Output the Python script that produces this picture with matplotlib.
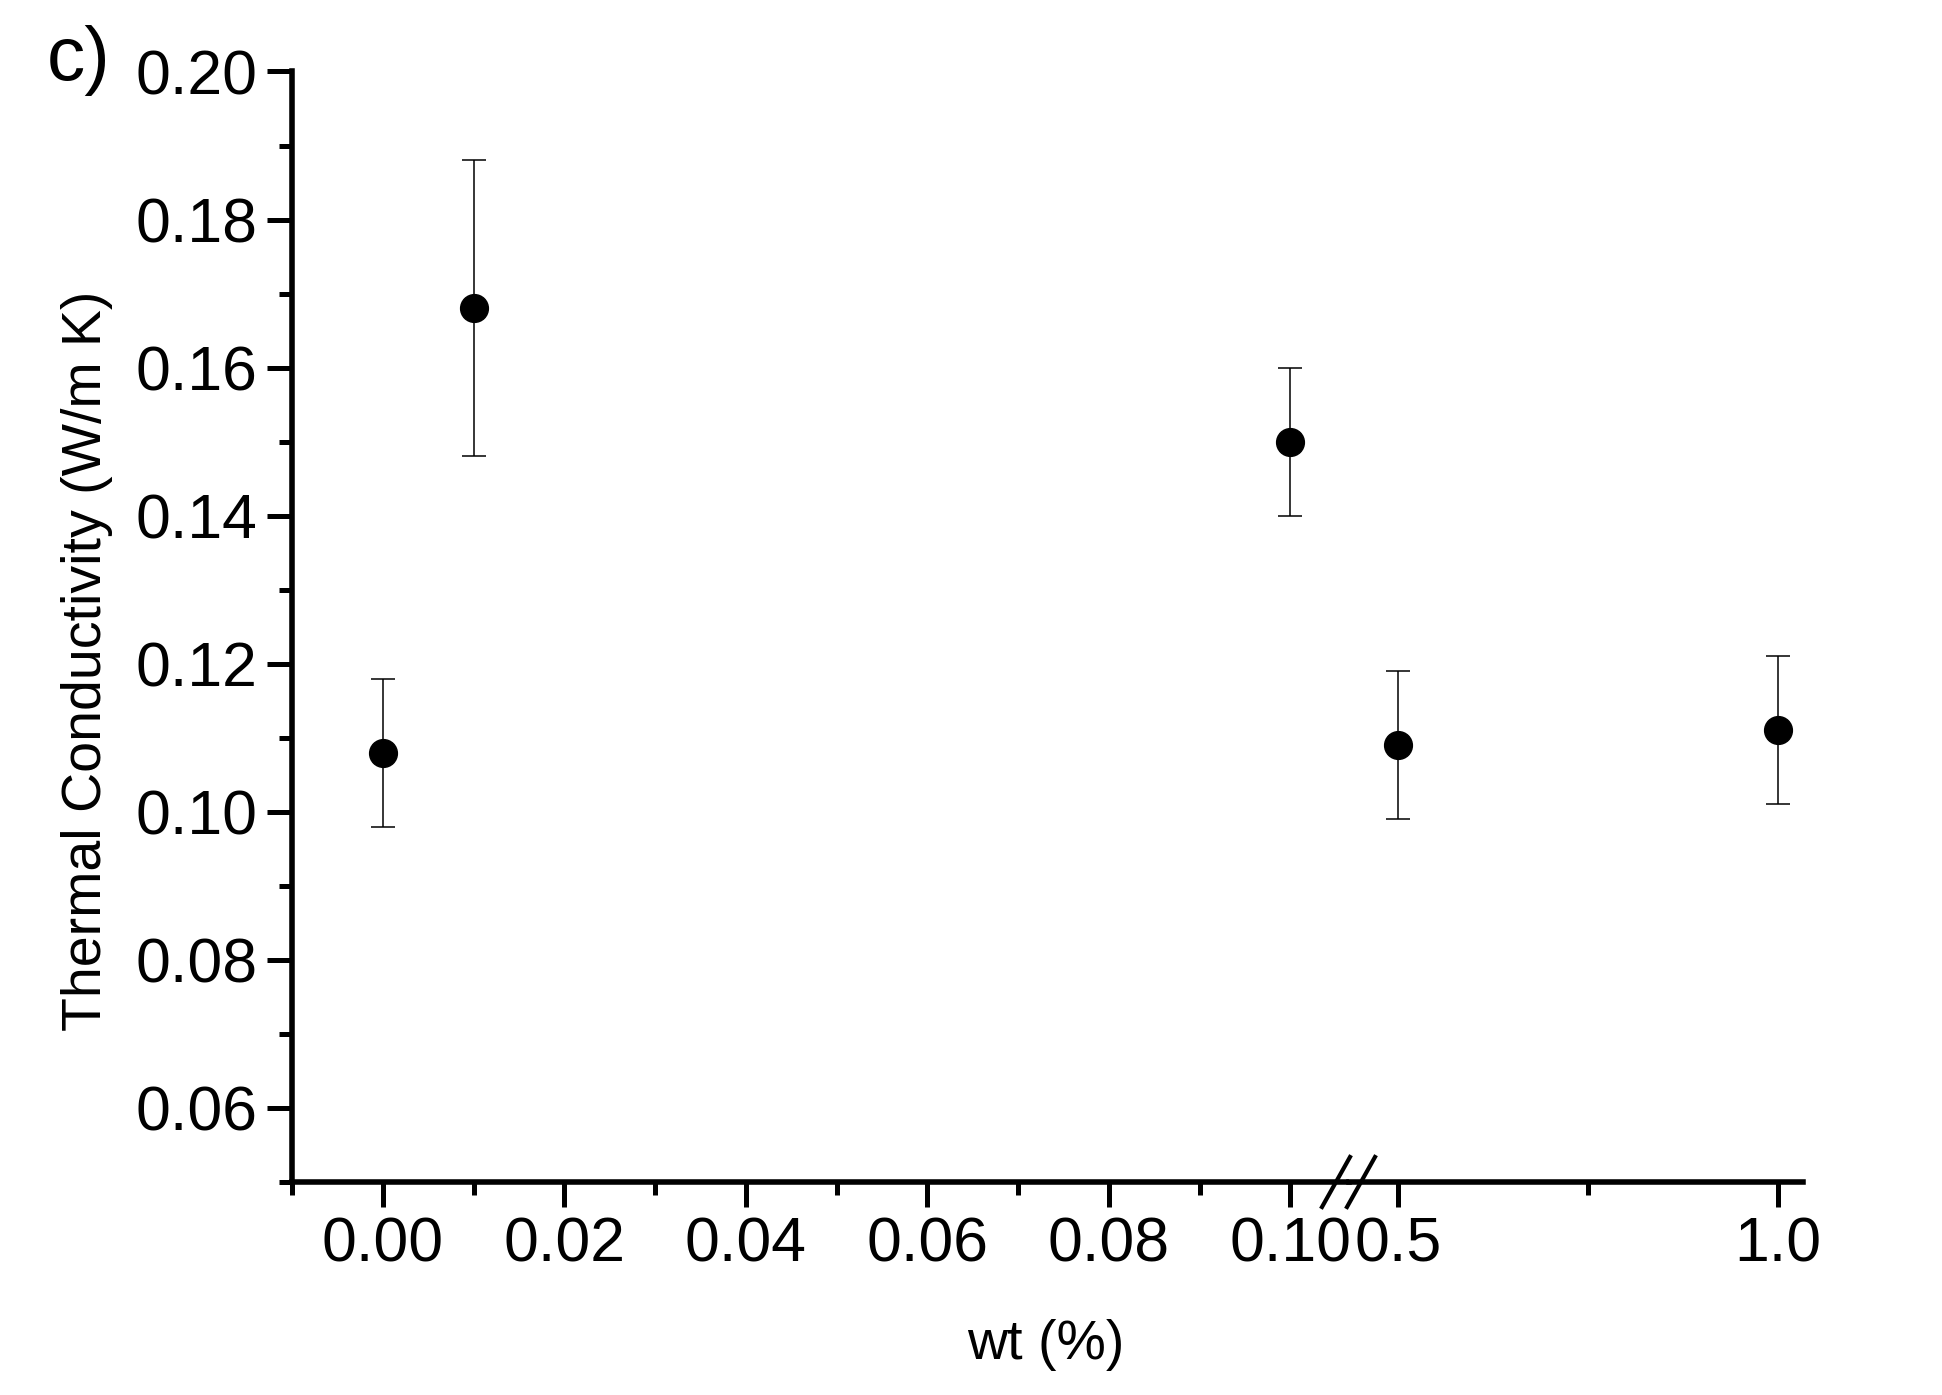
import matplotlib
matplotlib.use("Agg")
import matplotlib.pyplot as plt
from matplotlib.ticker import FixedLocator, FixedFormatter

plt.rcParams['font.family'] = ['Liberation Sans', 'DejaVu Sans']

# data
wt_low = [0.00, 0.01, 0.10]
k_low = [0.108, 0.168, 0.150]
err_low = [0.010, 0.020, 0.010]

wt_high = [0.5, 1.0]
k_high = [0.109, 0.111]
err_high = [0.010, 0.010]

y_ticks = [0.06, 0.08, 0.10, 0.12, 0.14, 0.16, 0.18, 0.20]
y_labels = ["0.06", "0.08", "0.10", "0.12", "0.14", "0.16", "0.18", "0.20"]
y_minor = [0.05, 0.07, 0.09, 0.11, 0.13, 0.15, 0.17, 0.19]

low_ticks = [0.00, 0.02, 0.04, 0.06, 0.08, 0.10]
low_labels = ["0.00", "0.02", "0.04", "0.06", "0.08", "0.10"]
low_minor = [-0.01, 0.01, 0.03, 0.05, 0.07, 0.09]

high_ticks = [0.5, 1.0]
high_labels = ["0.5", "1.0"]
high_minor = [0.75]

W, H = 1942, 1395
fig = plt.figure(figsize=(W / 100, H / 100), dpi=100)

# axes frame in pixels: y-axis at x=292, break at 1348.5, right end 1803
bottom = (H - 1182) / H
height = 1110.5 / H
ax1 = fig.add_axes([292 / W, bottom, 1056.5 / W, height])
ax2 = fig.add_axes([1348.5 / W, bottom, 454.5 / W, height], sharey=ax1)

eb = dict(fmt='o', color='black', ms=20, capsize=8.3, elinewidth=1.1,
          capthick=1.1, clip_on=False)
ax1.errorbar(wt_low, k_low, yerr=err_low, **eb)
ax2.errorbar(wt_high, k_high, yerr=err_high, **eb)

ax1.set_xlim(-0.01, 0.1064)
ax2.set_xlim(0.4349, 1.033)
ax1.set_ylim(0.05, 0.20)

for ax in (ax1, ax2):
    for s in ('top', 'right'):
        ax.spines[s].set_visible(False)
    for s in ('left', 'bottom'):
        ax.spines[s].set_linewidth(4)
    ax.tick_params(which='major', length=18, width=3.6, labelsize=45)
    ax.tick_params(which='minor', length=9.4, width=3.6)
    ax.tick_params(axis='x', pad=6)
    ax.tick_params(axis='y', pad=7)

ax1.yaxis.set_major_locator(FixedLocator(y_ticks))
ax1.yaxis.set_major_formatter(FixedFormatter(y_labels))
ax1.yaxis.set_minor_locator(FixedLocator(y_minor))

ax1.xaxis.set_major_locator(FixedLocator(low_ticks))
ax1.xaxis.set_major_formatter(FixedFormatter(low_labels))
ax1.xaxis.set_minor_locator(FixedLocator(low_minor))

ax2.xaxis.set_major_locator(FixedLocator(high_ticks))
ax2.xaxis.set_major_formatter(FixedFormatter(high_labels))
ax2.xaxis.set_minor_locator(FixedLocator(high_minor))

ax2.spines['left'].set_visible(False)
ax2.tick_params(axis='y', which='both', left=False, labelleft=False)

# break marks "//" on the x axis
dxf, dyf = 14 / 454.5, 25 / 1110.5
for ox in (-12.5 / 454.5, 12.5 / 454.5):
    ax2.plot([ox - dxf, ox + dxf], [-dyf, dyf], transform=ax2.transAxes,
             color='black', lw=3, clip_on=False)

fig.text(87 / W, 1 - 661 / H, "Thermal Conductivity (W/m K)", rotation=90,
         ha='center', va='center', fontsize=40)
fig.text(1046 / W, 1 - 1345 / H, "wt (%)", ha='center', va='center', fontsize=40)
fig.text(47 / W, 1 - 80 / H, "c)", ha='left', va='baseline', fontsize=55)

fig.savefig("out.png", dpi=100, facecolor='white')
